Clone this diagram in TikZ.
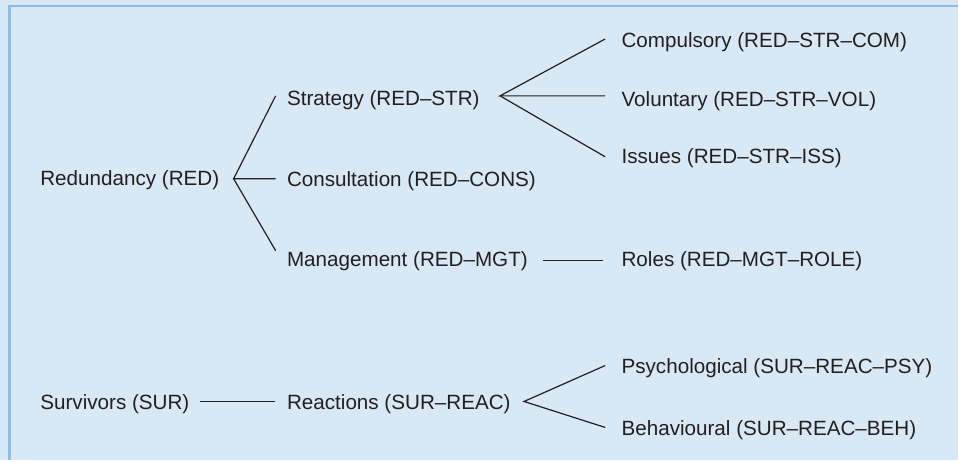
\documentclass[tikz,border=0pt]{standalone}
\usepackage{fontspec}
\setmainfont{Liberation Sans}
\usepackage{xcolor}
\usetikzlibrary{calc,positioning}
\definecolor{panel}{HTML}{D9E8F5}
\definecolor{rim}{HTML}{8BBDE6}
\definecolor{ink}{HTML}{231F20}
\begin{document}
\begin{tikzpicture}[x=.5pt,y=-.5pt,
  term/.style={anchor=west,inner sep=0pt,text height=.716em,text depth=0pt,
    text=ink,font=\fontsize{10.33}{12.4}\selectfont},
  link/.style={draw=ink,line width=.6pt},
  frame/.style={draw=rim,line width=1.25pt}]
\fill[panel] (0,0) rectangle (959,461);
\draw[frame] (959,6.2)--(9.3,6.2)--(9.3,461);
% redundancy branch
\node[term] (red)  at (40,179)  {Redundancy (RED)};
\node[term] (str)  at (287,98)  {Strategy (RED–STR)};
\node[term] (cons) at (287,180) {Consultation (RED–CONS)};
\node[term] (mgt)  at (287,260) {Management (RED–MGT)};
\node[term] (com)  at (622,40)  {Compulsory (RED–STR–COM)};
\node[term] (vol)  at (622,99)  {Voluntary (RED–STR–VOL)};
\node[term] (iss)  at (622,157) {Issues (RED–STR–ISS)};
\node[term] (role) at (622,260) {Roles (RED–MGT–ROLE)};
\coordinate (redfork) at ([shift={(14,0)}]red.east);
\coordinate (strfork) at ([shift={(20,-2)}]str.east);
\draw[link] ([shift={(-11,-2)}]str.west)--(redfork)--([shift={(-11,-1)}]cons.west);
\draw[link] (redfork)--([shift={(-11,-9)}]mgt.west);
\draw[link] ([shift={(-16,-1)}]com.west)--(strfork)--([shift={(-16,-3)}]vol.west);
\draw[link] (strfork)--([shift={(-16,0)}]iss.west);
\draw[link] ([shift={(15,1)}]mgt.east)--([shift={(-18,1)}]role.west);
% survivors branch
\node[term] (sur)  at (40,403)  {Survivors (SUR)};
\node[term] (reac) at (287,403) {Reactions (SUR–REAC)};
\node[term] (psy)  at (622,367) {Psychological (SUR–REAC–PSY)};
\node[term] (beh)  at (622,429) {Behavioural (SUR–REAC–BEH)};
\coordinate (reacfork) at ([shift={(13,-1)}]reac.east);
\draw[link] ([shift={(10,-1)}]sur.east)--([shift={(-12,-1)}]reac.west);
\draw[link] ([shift={(-16,-1)}]psy.west)--(reacfork)--([shift={(-16,-1)}]beh.west);
\end{tikzpicture}
\end{document}
